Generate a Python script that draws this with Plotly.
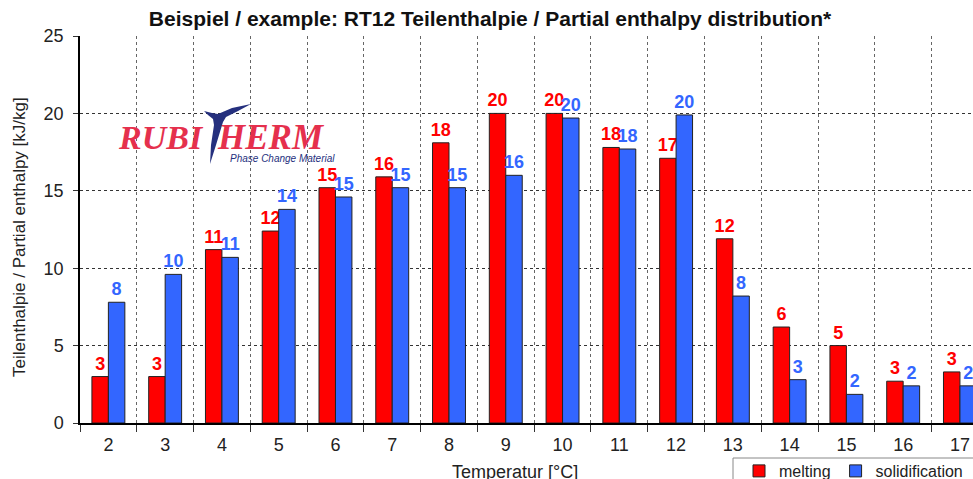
import plotly.graph_objects as go

temperatures = ["2", "3", "4", "5", "6", "7", "8", "9", "10", "11", "12", "13", "14", "15", "16", "17"]
melting = [3.0, 3.0, 11.2, 12.4, 15.2, 15.9, 18.1, 20.0, 20.0, 17.8, 17.1, 11.9, 6.2, 5.0, 2.7, 3.3]
solidification = [7.8, 9.6, 10.7, 13.8, 14.6, 15.2, 15.2, 16.0, 19.7, 17.7, 19.9, 8.2, 2.8, 1.85, 2.4, 2.4]
y_ticks = [0, 5, 10, 15, 20, 25]

W, H = 973, 479
L, R, T, B = 80, 0, 36, 56
PW, PH = W - L - R, H - T - B

def px(x):
    return (x - L) / PW

def py(y):
    return (H - B - y) / PH

RED = "#ff0000"
BLUE = "#3366ff"
FONT = "Liberation Sans"

fig = go.Figure()
fig.add_trace(go.Bar(
    x=temperatures, y=melting, name="melting",
    marker=dict(color=RED, line=dict(color="#222222", width=1)),
    texttemplate="%{y:.0f}", textposition="outside", constraintext="none",
    textfont=dict(family=FONT, size=18, color=RED, weight="bold"),
    cliponaxis=False,
))
fig.add_trace(go.Bar(
    x=temperatures, y=solidification, name="solidification",
    marker=dict(color=BLUE, line=dict(color="#222222", width=1)),
    texttemplate="%{y:.0f}", textposition="outside", constraintext="none",
    textfont=dict(family=FONT, size=18, color=BLUE, weight="bold"),
    cliponaxis=False,
))

fig.update_layout(
    width=W, height=H,
    margin=dict(l=L, r=R, t=T, b=B, autoexpand=False),
    paper_bgcolor="white", plot_bgcolor="white",
    barmode="group", bargap=0.42, bargroupgap=0,
    font=dict(family=FONT, color="#222222"),
    title=dict(
        text="<b>Beispiel / example: RT12 Teilenthalpie / Partial enthalpy distribution*</b>",
        x=490 / W, xanchor="center", xref="container",
        y=1 - 19 / H, yanchor="middle", yref="container",
        font=dict(family=FONT, size=21, color="#111111"),
    ),
    showlegend=True,
    legend=dict(
        orientation="h", x=px(739), xanchor="left", y=py(454), yanchor="top",
        borderwidth=0, bgcolor="rgba(0,0,0,0)",
        font=dict(family=FONT, size=16, color="#222222"),
        tracegroupgap=0,
    ),
    xaxis=dict(
        type="category", range=[-0.5, 15.23], tickson="boundaries",
        showgrid=True, gridcolor="#666666", griddash="dot", gridwidth=1,
        ticks="outside", ticklen=7, tickcolor="#333333",
        ticklabelstandoff=5,
        showline=True, linecolor="black", linewidth=1.5,
        tickfont=dict(family=FONT, size=18, color="#222222"),
    ),
    yaxis=dict(
        range=[0, 25], tickvals=y_ticks,
        showgrid=True, gridcolor="#333333", griddash="dot", gridwidth=1,
        ticks="outside", ticklen=5, tickcolor="#333333",
        ticklabelstandoff=6,
        showline=True, linecolor="black", linewidth=1.5,
        tickfont=dict(family=FONT, size=18, color="#222222"),
        zeroline=False,
    ),
)

# legend frame
fig.add_shape(type="rect", x0=px(733), x1=px(990), y0=py(458), y1=py(500),
              xref="paper", yref="paper", line=dict(color="#888888", width=1),
              fillcolor="white", layer="below")

# axis titles
fig.add_annotation(
    text="Temperatur [°C]", x=px(515), y=py(472), xref="paper", yref="paper",
    showarrow=False, xanchor="center", yanchor="middle",
    font=dict(family=FONT, size=18, color="#222222"),
)
fig.add_annotation(
    text="Teilenthalpie / Partial enthalpy [kJ/kg]", x=px(19), y=py(237),
    xref="paper", yref="paper", showarrow=False, textangle=-90,
    xanchor="center", yanchor="middle",
    font=dict(family=FONT, size=17, color="#222222"),
)

# RUBITHERM logo
LOGO_RED = "#e5304d"
LOGO_BLUE = "#25307e"
fig.add_annotation(
    text="<b><i>RUBI</i></b>", x=px(206), y=py(137), xref="paper", yref="paper",
    showarrow=False, xanchor="right", yanchor="middle",
    font=dict(family="Liberation Serif", size=34, color=LOGO_RED),
)
fig.add_annotation(
    text="<b><i>HERM</i></b>", x=px(215), y=py(137), xref="paper", yref="paper",
    showarrow=False, xanchor="left", yanchor="middle",
    font=dict(family="Liberation Serif", size=35, color=LOGO_RED),
)
fig.add_annotation(
    text="<i>Phase Change Material</i>", x=px(228), y=py(158), xref="paper", yref="paper",
    showarrow=False, xanchor="left", yanchor="middle",
    font=dict(family=FONT, size=10, color=LOGO_BLUE),
)
# T swoosh
t_outline = [(204, 111), (212, 113), (218, 114), (232, 108), (251, 104), (238, 111),
             (226, 117), (223, 122), (216, 145), (210, 164), (211, 145), (214, 125),
             (213, 119), (208, 115)]

def path(pts):
    return "M " + " L ".join(f"{px(a)},{py(b)}" for a, b in pts) + " Z"

fig.add_shape(type="path", path=path(t_outline), xref="paper", yref="paper",
              fillcolor=LOGO_BLUE, line=dict(width=0), layer="above")

fig.write_html("out.html", config={"displayModeBar": False},
               post_script="document.body.style.margin='0px';")
